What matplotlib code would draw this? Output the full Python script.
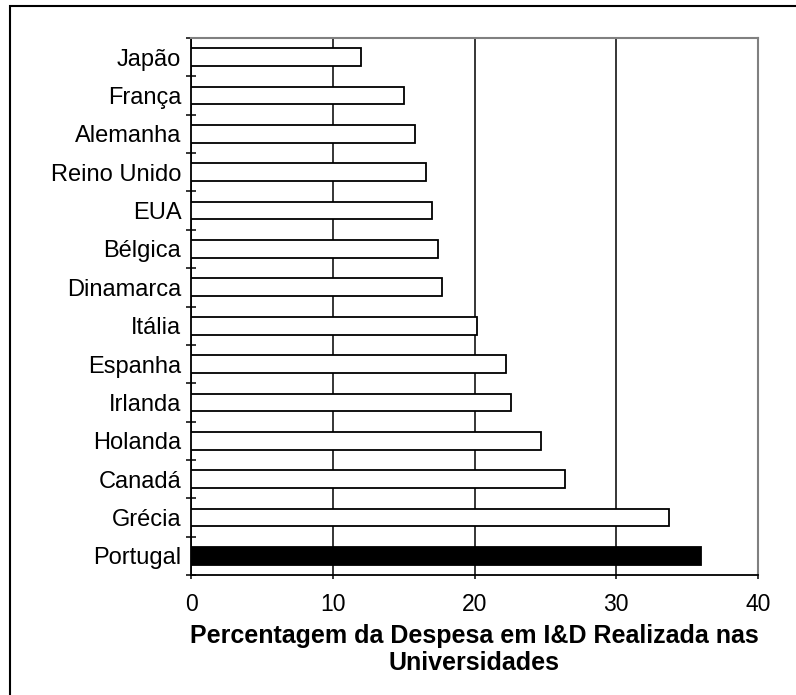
import matplotlib
matplotlib.use("Agg")
import matplotlib.pyplot as plt
from matplotlib.patches import Rectangle
import numpy as np

# data (top to bottom)
countries = ["Japão", "França", "Alemanha", "Reino Unido", "EUA", "Bélgica",
             "Dinamarca", "Itália", "Espanha", "Irlanda", "Holanda", "Canadá",
             "Grécia", "Portugal"]
values = [12.0, 15.0, 15.8, 16.6, 17.0, 17.4, 17.7, 20.2, 22.2, 22.6,
          24.7, 26.4, 33.7, 36.0]
highlight = "Portugal"
x_ticks = [0, 10, 20, 30, 40]
x_label = "Percentagem da Despesa em I&D Realizada nas\nUniversidades"

plt.rcParams['font.family'] = ['Liberation Sans', 'DejaVu Sans']

fig = plt.figure(figsize=(7.96, 6.95), dpi=100)
ax = fig.add_axes([191 / 796, 1 - 575 / 695, (758 - 191) / 796, (575 - 38) / 695])

pos = np.arange(len(countries))
colors = ["black" if c == highlight else "white" for c in countries]
ax.barh(pos, values, height=0.46, color=colors, edgecolor="black",
        linewidth=1.3, zorder=3)

ax.set_xlim(0, 40)
ax.set_ylim(len(countries) - 0.5, -0.5)

# vertical gridlines
ax.set_axisbelow(True)
ax.xaxis.grid(True, color="black", linewidth=1.1)

ax.set_xticks(x_ticks)
ax.set_xticklabels([str(t) for t in x_ticks], fontsize=16.5)
ax.tick_params(axis="x", direction="out", length=3, width=1.1, pad=10)

# category labels centred on bars, ticks between categories
ax.set_yticks(pos)
ax.set_yticklabels(countries, fontsize=17)
ax.tick_params(axis="y", which="major", length=0, pad=7)
ax.set_yticks(np.arange(-0.5, len(countries)), minor=True)
ax.tick_params(axis="y", which="minor", direction="inout", length=7, width=1.1)

for side in ["left", "bottom"]:
    ax.spines[side].set_color("black")
    ax.spines[side].set_linewidth(1.3)
for side in ["top", "right"]:
    ax.spines[side].set_color("#808080")
    ax.spines[side].set_linewidth(1.5)

ax.set_xlabel(x_label, fontsize=18, fontweight="bold", linespacing=1.12,
              labelpad=6)

# outer frame of the pasted chart (only left and top edges visible)
fig.patches.append(Rectangle((10 / 796, -0.5), 2.0, 1.5 - 6 / 695,
                             transform=fig.transFigure, fill=False,
                             edgecolor="black", linewidth=1.5))

fig.savefig("out.png", dpi=100)
